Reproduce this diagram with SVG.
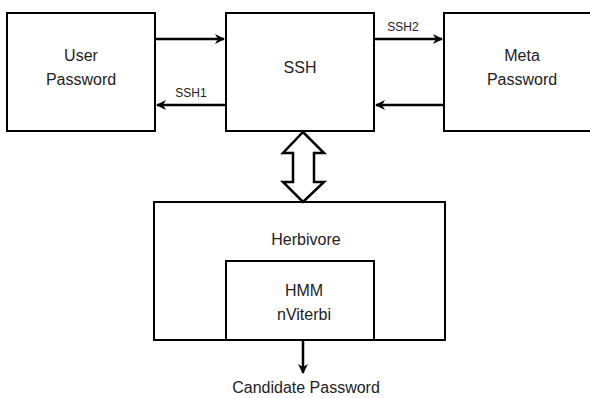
<svg xmlns="http://www.w3.org/2000/svg" width="590" height="398" viewBox="0 0 590 398">
<style>
.box{fill:#fff;stroke:#000;stroke-width:2}
.t{font-family:"Liberation Sans",Arial,sans-serif;font-size:16px;fill:#222;text-anchor:middle}
.s{font-family:"Liberation Sans",Arial,sans-serif;font-size:12px;fill:#222;text-anchor:middle}
.c{fill:none;stroke:#000;stroke-width:2.5}
</style>
<defs>
<marker id="ah" viewBox="0 0 10 10" refX="9" refY="5" markerWidth="4" markerHeight="4" orient="auto" markerUnits="strokeWidth">
<path d="M0,0 L10,5 L0,10 L3,5 Z" fill="#000"/>
</marker>
</defs>
<rect width="590" height="398" fill="#fff"/>
<g id="user"><rect class="box" x="7" y="13" width="148" height="118"/><text class="t" x="81" y="61">User</text><text class="t" x="81" y="85">Password</text></g>
<g id="ssh"><rect class="box" x="226" y="13" width="148" height="118"/><text class="t" x="300" y="73">SSH</text></g>
<g id="meta"><rect class="box" x="444" y="13" width="156" height="118"/><text class="t" x="522" y="61">Meta</text><text class="t" x="522" y="85">Password</text></g>
<g id="herbivore"><rect class="box" x="154" y="202" width="291" height="138"/><text class="t" x="306" y="245">Herbivore</text></g>
<g id="hmm"><rect class="box" x="226" y="261" width="148" height="79"/><text class="t" x="304" y="296">HMM</text><text class="t" x="304" y="320">nViterbi</text></g>
<g id="connectors">
<line class="c" x1="155" y1="39" x2="224" y2="39" marker-end="url(#ah)"/>
<line class="c" x1="226" y1="105" x2="157" y2="105" marker-end="url(#ah)"/>
<line class="c" x1="374" y1="39" x2="442" y2="39" marker-end="url(#ah)"/>
<line class="c" x1="444" y1="105" x2="376" y2="105" marker-end="url(#ah)"/>
<polygon points="303,132 324,153 314,153 314,182 324,182 303,202 283,182 293,182 293,153 283,153" fill="#fff" stroke="#000" stroke-width="2.5" stroke-linejoin="miter"/>
<line class="c" x1="303" y1="340" x2="303" y2="373" marker-end="url(#ah)"/>
<text class="s" x="191" y="97">SSH1</text>
<text class="s" x="403" y="31">SSH2</text>
</g>
<text class="t" x="306" y="393">Candidate Password</text>
</svg>
